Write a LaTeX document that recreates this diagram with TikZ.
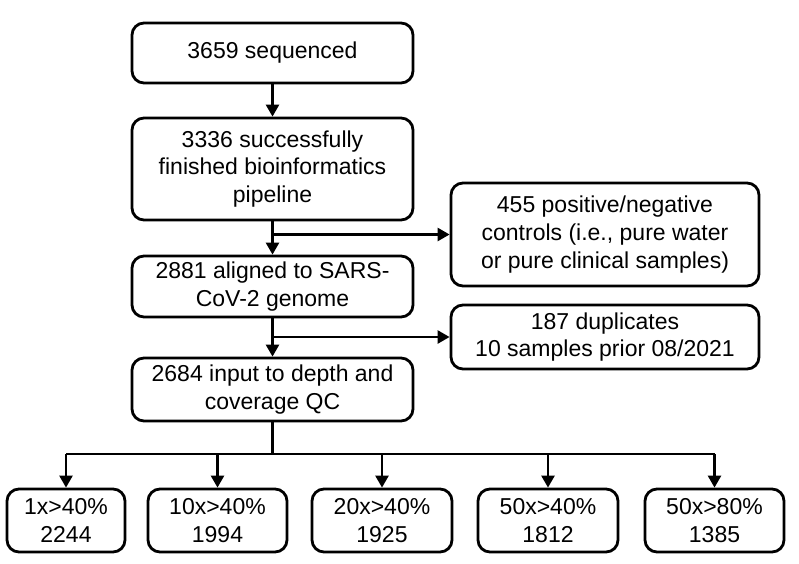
\documentclass[tikz,border=0pt]{standalone}
\usepackage{fontspec}
\setmainfont{Liberation Sans}
\usepackage{tikz}
\usetikzlibrary{arrows.meta}

\tikzset{
	box/.style={draw,line width=2.8pt,rounded corners=12pt,align=center,
		font=\fontsize{23}{27.6}\selectfont,inner sep=0pt},
	arr/.style={line width=2.5pt,-{Triangle[length=12pt,width=13pt]}}
}

\begin{document}
\begin{tikzpicture}[x=1pt,y=-1pt]
			\useasboundingbox (0,0) rectangle (799,563);
			% main column
			\node[box,minimum width=281pt,minimum height=60pt] (seq) at (272.5,53) {3659 sequenced};
			\node[box,minimum width=281pt,minimum height=102pt] (pipe) at (272.5,169) {3336 successfully\\finished bioinformatics\\pipeline};
			\node[box,minimum width=281pt,minimum height=61pt] (aligned) at (272.5,286.5) {2881 aligned to SARS-\\CoV-2 genome};
			\node[box,minimum width=281pt,minimum height=63pt] (qc) at (272.5,389.5) {2684 input to depth and\\coverage QC};
			% excluded
			\node[box,minimum width=308pt,minimum height=103pt] (ctrl) at (605,234.5) {455 positive/negative\\controls (i.e., pure water\\or pure clinical samples)};
			\node[box,minimum width=308pt,minimum height=64pt] (dup) at (605,337) {187 duplicates\\10 samples prior 08/2021};
			% thresholds
			\node[box,minimum width=118pt,minimum height=63pt] (t1) at (66,520.5) {1x>40\%\\2244};
			\node[box,minimum width=139pt,minimum height=63pt] (t2) at (217.5,520.5) {10x>40\%\\1994};
			\node[box,minimum width=140pt,minimum height=63pt] (t3) at (382,520.5) {20x>40\%\\1925};
			\node[box,minimum width=140pt,minimum height=63pt] (t4) at (548,520.5) {50x>40\%\\1812};
			\node[box,minimum width=139pt,minimum height=63pt] (t5) at (714.5,520.5) {50x>80\%\\1385};

			\draw[arr] (seq) -- (pipe);
			\draw[arr] (pipe) -- (aligned);
			\draw[arr] (aligned) -- (qc);
			\draw[arr] (pipe.south |- ctrl.west) -- (ctrl.west);
			\draw[arr] (aligned.south |- dup.west) -- (dup.west);
			\coordinate (bar) at (272.5,454);
			\draw[line width=2.5pt] (qc.south) -- (bar);
			\draw[line width=2.5pt] (t1.north |- bar) -- (t5.north |- bar);
			\foreach \t in {t1,t2,t3,t4,t5}
				\draw[arr] (\t.north |- bar) -- (\t.north);
		\end{tikzpicture}
\end{document}
